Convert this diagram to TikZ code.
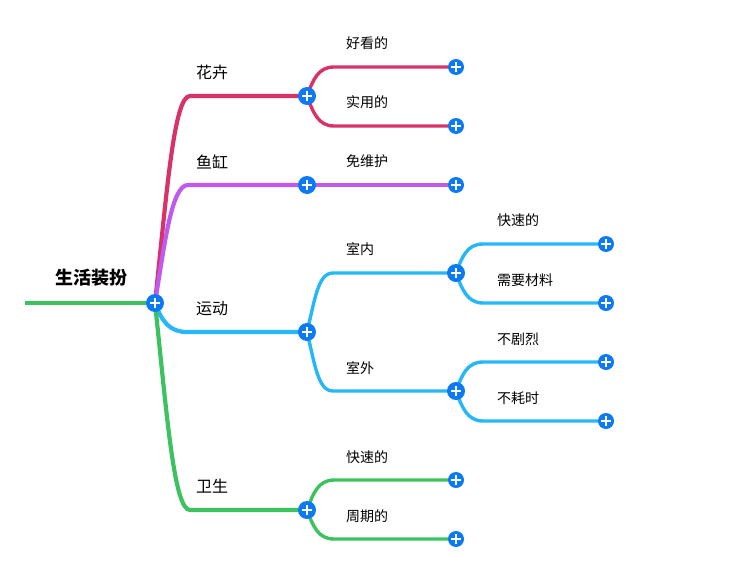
\documentclass[tikz,border=0pt]{standalone}
\usepackage{fontspec}
\newfontfamily\cjk{Noto Sans CJK SC}
\usetikzlibrary{backgrounds}
\definecolor{knobblue}{RGB}{12,122,245}
\definecolor{rosered}{RGB}{216,50,106}
\definecolor{violet}{RGB}{192,90,238}
\definecolor{skyblue}{RGB}{38,183,248}
\definecolor{leafgreen}{RGB}{60,195,95}

\begin{document}
\begin{tikzpicture}[x=1pt,y=-1pt,line cap=round,
  knob/.style={circle,fill=knobblue,inner sep=0pt,minimum size=18pt,
    path picture={\draw[white,line width=2.4pt,line cap=butt]
      ([xshift=-5pt]path picture bounding box.center) -- ([xshift=5pt]path picture bounding box.center)
      ([yshift=-5pt]path picture bounding box.center) -- ([yshift=5pt]path picture bounding box.center);}},
  leafknob/.style={knob,minimum size=16pt},
  rootlbl/.style={font=\cjk\bfseries\fontsize{18}{18}\selectfont,inner sep=0pt},
  lblone/.style={font=\cjk\fontsize{16}{16}\selectfont,anchor=west,inner sep=0pt},
  lbltwo/.style={font=\cjk\fontsize{14}{14}\selectfont,anchor=west,inner sep=0pt},
  thick1/.style={line width=4.2pt},
  thick2/.style={line width=3.4pt}]
  \useasboundingbox (0,0) rectangle (734,565);

  % root
  \node (hub) [knob] at (155,303) {};
  \coordinate (tail) at (25,303);
  \node (root) [rootlbl] at (91,278) {生活装扮};

  % first level
  \node (flower) [knob] at (307,96) {};
  \node (fish)   [knob] at (307,185) {};
  \node (sport)  [knob] at (307,332) {};
  \node (clean)  [knob] at (307,510) {};
  \node [lblone] at (196,72)  {花卉};
  \node [lblone] at (196,162) {鱼缸};
  \node [lblone] at (196,309) {运动};
  \node [lblone] at (196,486) {卫生};

  % second level
  \node (pretty)  [leafknob] at (456,67)  {};
  \node (useful)  [leafknob] at (456,126) {};
  \node (nocare)  [leafknob] at (456,185) {};
  \node (indoor)  [knob]     at (456,273) {};
  \node (outdoor) [knob]     at (456,391) {};
  \node (quick)   [leafknob] at (456,480) {};
  \node (period)  [leafknob] at (456,539) {};
  \node [lbltwo] at (346,43)  {好看的};
  \node [lbltwo] at (346,102) {实用的};
  \node [lbltwo] at (346,161) {免维护};
  \node [lbltwo] at (346,249) {室内};
  \node [lbltwo] at (346,368) {室外};
  \node [lbltwo] at (346,457) {快速的};
  \node [lbltwo] at (346,516) {周期的};

  % third level
  \node (fast)   [leafknob] at (606,244) {};
  \node (needs)  [leafknob] at (606,303) {};
  \node (gentle) [leafknob] at (606,362) {};
  \node (short)  [leafknob] at (606,421) {};
  \node [lbltwo] at (497,220) {快速的};
  \node [lbltwo] at (497,280) {需要材料};
  \node [lbltwo] at (497,339) {不剧烈};
  \node [lbltwo] at (497,398) {不耗时};

  \begin{pgfonlayer}{background}
    \draw[thick1,leafgreen] (tail) -- (hub.center);
    % branches from hub
    \draw[thick1,rosered] (hub.center) .. controls (167,190) and (174,96) .. (190,96) -- (flower.center);
    \draw[thick1,violet] (hub.center) .. controls (165,240) and (172,185) .. (188,185) -- (fish.center);
    \draw[thick1,skyblue] (hub.center) .. controls (162,322) and (170,332) .. (187,332) -- (sport.center);
    \draw[thick1,leafgreen] (hub.center) .. controls (167,416) and (174,510) .. (190,510) -- (clean.center);
    % second level
    \draw[thick2,rosered] (flower.center) .. controls (313,80) and (318,67) .. (334,67) -- (pretty.center);
    \draw[thick2,rosered] (flower.center) .. controls (313,112) and (318,126) .. (334,126) -- (useful.center);
    \draw[thick2,violet] (fish.center) -- (nocare.center);
    \draw[thick2,skyblue] (sport.center) .. controls (315,299) and (318,273) .. (333,273) -- (indoor.center);
    \draw[thick2,skyblue] (sport.center) .. controls (315,365) and (318,391) .. (333,391) -- (outdoor.center);
    \draw[thick2,leafgreen] (clean.center) .. controls (313,494) and (318,480) .. (334,480) -- (quick.center);
    \draw[thick2,leafgreen] (clean.center) .. controls (313,526) and (318,539) .. (334,539) -- (period.center);
    % third level
    \draw[thick2,skyblue] (indoor.center) .. controls (462,257) and (467,244) .. (483,244) -- (fast.center);
    \draw[thick2,skyblue] (indoor.center) .. controls (462,289) and (467,303) .. (483,303) -- (needs.center);
    \draw[thick2,skyblue] (outdoor.center) .. controls (462,375) and (467,362) .. (483,362) -- (gentle.center);
    \draw[thick2,skyblue] (outdoor.center) .. controls (462,407) and (467,421) .. (483,421) -- (short.center);
  \end{pgfonlayer}
\end{tikzpicture}
\end{document}
